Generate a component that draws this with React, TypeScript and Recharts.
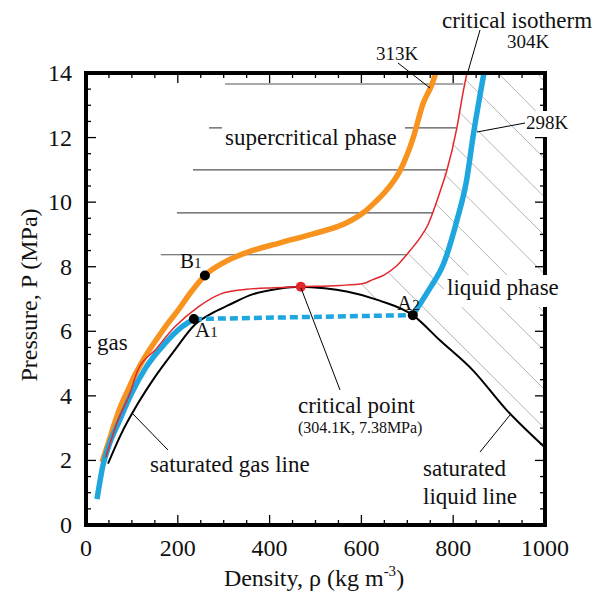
import { LineChart, Line, XAxis, YAxis } from 'recharts';

const FONT = '"Liberation Serif", "Times New Roman", serif';
const INK = '#111';

// plot box (px) – must agree with chart margins / axis sizes below
const LEFT = 86;
const RIGHT = 545;
const TOP = 73;
const BOTTOM = 525;

// axis ticks
const densityTicks = [0, 50, 100, 150, 200, 250, 300, 350, 400, 450, 500, 550, 600, 650, 700, 750, 800, 850, 900, 950, 1000];
const pressureTicks = [0, 0.5, 1, 1.5, 2, 2.5, 3, 3.5, 4, 4.5, 5, 5.5, 6, 6.5, 7, 7.5, 8, 8.5, 9, 9.5, 10, 10.5, 11, 11.5, 12, 12.5, 13, 13.5, 14];

// 313K isotherm (orange)
const rho313 = [35, 50, 62, 76, 91, 105, 120, 138, 157, 178, 200, 228, 259, 300, 350, 423, 495, 568, 604, 630, 648, 684, 713, 734, 754, 762];
const p313 = [1.95, 2.6, 3.14, 3.7, 4.17, 4.6, 5.0, 5.42, 5.82, 6.24, 6.64, 7.2, 7.73, 8.13, 8.44, 8.74, 9.02, 9.36, 9.67, 10.0, 10.26, 10.97, 12.0, 13.04, 13.66, 14.0];

// 304K critical isotherm (red)
const rho304 = [43, 70, 95, 113, 150, 193, 244, 294, 350, 410, 468, 553, 604, 625, 650, 677, 706, 728, 745, 757, 772, 786, 808, 822, 830];
const p304 = [2.1, 3.25, 4.05, 4.8, 5.41, 6.13, 6.75, 7.16, 7.3, 7.35, 7.38, 7.42, 7.48, 7.6, 7.75, 8.03, 8.5, 8.9, 9.3, 9.73, 10.35, 10.97, 12.3, 13.44, 14.0];

// 298K isotherm (blue): gas branch, two-phase plateau, liquid branch
const rho298Gas = [24, 37, 52, 70, 99, 131, 171, 208, 235];
const p298Gas = [0.8, 1.85, 2.55, 3.14, 4.07, 4.89, 5.61, 6.13, 6.38];
const rho298Plateau = [235, 712];
const p298Plateau = [6.38, 6.5];
const rho298Liq = [712, 728, 750, 779, 808, 829, 844, 857, 867];
const p298Liq = [6.5, 6.85, 7.35, 8.09, 9.43, 10.66, 12.1, 13.2, 14.0];

// saturation dome (black)
const rhoSat = [48, 77, 113, 150, 193, 237, 280, 309, 364, 420, 468, 520, 568, 640, 712, 771, 843, 917, 1000];
const pSat = [1.9, 2.83, 3.76, 4.58, 5.41, 6.2, 6.6, 6.8, 7.15, 7.32, 7.38, 7.33, 7.23, 6.95, 6.5, 5.72, 4.79, 3.55, 2.4];

// marked states: B1, A1, A2 and the critical point
const stateRho = [259, 235, 712];
const stateP = [7.73, 6.38, 6.5];
const criticalRho = [468];
const criticalP = [7.38];

// supercritical region rules
const scP = [8.37, 9.67, 11.0, 12.3, 13.66];
const scRhoFrom = [163, 198, 233, 268, 303];
const scRhoTo = [699, 756, 786, 808, 822];

// liquid region hatching
const hatchRhoFrom = [600, 658, 701, 737, 761, 779, 796, 812, 827, 898, 983];
const hatchPFrom = [7.47, 7.83, 8.42, 9.1, 9.96, 10.9, 11.84, 12.81, 13.79, 14, 14];
const hatchRhoTo = [634, 1000, 1000, 1000, 1000, 1000, 1000, 1000, 1000, 1000, 1000];
const hatchPTo = [6.97, 2.98, 4.18, 5.37, 6.56, 7.76, 8.95, 10.14, 11.34, 12.53, 13.72];

const rows = (xs: number[], ys: number[]) => xs.map((rho, i) => ({ rho, p: ys[i] }));

function DensityTick({ x, payload }: any) {
  const v = payload.value;
  const major = v % 200 === 0;
  const len = major ? 10 : 5;
  return (
    <g>
      <line x1={x} x2={x} y1={BOTTOM} y2={BOTTOM - len} stroke="#000" strokeWidth={1.3} />
      <line x1={x} x2={x} y1={TOP} y2={TOP + len} stroke="#000" strokeWidth={1.3} />
      {major && (
        <text x={x} y={556} textAnchor="middle" fontFamily={FONT} fontSize={24} fill={INK}>
          {v}
        </text>
      )}
    </g>
  );
}

function PressureTick({ y, payload }: any) {
  const v = payload.value;
  const major = v % 2 === 0;
  const len = major ? 10 : 5;
  return (
    <g>
      <line x1={LEFT} x2={LEFT + len} y1={y} y2={y} stroke="#000" strokeWidth={1.3} />
      <line x1={RIGHT} x2={RIGHT - len} y1={y} y2={y} stroke="#000" strokeWidth={1.3} />
      {major && (
        <text x={72} y={y + 8} textAnchor="end" fontFamily={FONT} fontSize={24} fill={INK}>
          {v}
        </text>
      )}
    </g>
  );
}

function Annotations() {
  const t = { fontFamily: FONT, fill: INK };
  const lead = { stroke: '#000', strokeWidth: 1 };
  return (
    <svg width={600} height={596} style={{ position: 'absolute', left: 0, top: 0, pointerEvents: 'none' }}>
      {/* heavy frame round the plot */}
      <rect x={LEFT} y={TOP} width={RIGHT - LEFT} height={BOTTOM - TOP} fill="none" stroke="#000" strokeWidth={4} />

      {/* axis titles */}
      <text x={314} y={586} textAnchor="middle" fontSize={24} {...t}>
        Density, ρ (kg m<tspan dy={-10} fontSize={15}>-3</tspan>
        <tspan dy={10}>)</tspan>
      </text>
      <text transform="translate(37,295) rotate(-90)" textAnchor="middle" fontSize={24} {...t}>
        Pressure, P (MPa)
      </text>

      {/* isotherm labels */}
      <text x={442} y={28} fontSize={23} {...t}>critical isotherm</text>
      <text x={528} y={48} textAnchor="middle" fontSize={19} {...t}>304K</text>
      <line x1={480} y1={30} x2={467} y2={75} {...lead} />
      <text x={397} y={60} textAnchor="middle" fontSize={19} {...t}>313K</text>
      <line x1={398} y1={63} x2={430} y2={88} {...lead} />
      <rect x={524} y={111} width={46} height={26} fill="#fff" />
      <line x1={525} y1={123} x2={477} y2={132} {...lead} />
      <text x={547} y={129} textAnchor="middle" fontSize={19} {...t}>298K</text>

      {/* regions */}
      <rect x={222} y={121} width={183} height={32} fill="#fff" />
      <text x={225} y={145} fontSize={23} {...t}>supercritical phase</text>
      <rect x={444} y={275} width={124} height={32} fill="#fff" />
      <text x={447} y={295} fontSize={23} {...t}>liquid phase</text>
      <text x={97} y={350} fontSize={23} {...t}>gas</text>

      {/* state labels */}
      <text x={180} y={268} fontSize={21} {...t}>B<tspan fontSize={15}>1</tspan></text>
      <text x={195} y={337} fontSize={21} {...t}>A<tspan fontSize={15}>1</tspan></text>
      <text x={397} y={310} fontSize={21} {...t}>A<tspan fontSize={15}>2</tspan></text>

      {/* critical point */}
      <line x1={301} y1={288} x2={340} y2={390} {...lead} />
      <text x={298} y={413} fontSize={23} {...t}>critical point</text>
      <text x={298} y={433} fontSize={16} {...t}>(304.1K, 7.38MPa)</text>

      {/* saturation lines */}
      <line x1={132} y1={413} x2={168} y2={450} {...lead} />
      <text x={150} y={472} fontSize={23} {...t}>saturated gas line</text>
      <line x1={510} y1={415} x2={480} y2={452} {...lead} />
      <text x={423} y={476} fontSize={23} {...t}>saturated</text>
      <text x={423} y={504} fontSize={23} {...t}>liquid line</text>
    </svg>
  );
}

export default function App() {
  const hatch = hatchRhoFrom.map((r, i) => rows([r, hatchRhoTo[i]], [hatchPFrom[i], hatchPTo[i]]));
  const rules = scP.map((p, i) => rows([scRhoFrom[i], scRhoTo[i]], [p, p]));

  return (
    <div style={{ position: 'absolute', left: 0, top: 0, width: 600, height: 596, background: '#fff' }}>
      <LineChart width={600} height={596} margin={{ top: 73, right: 55, bottom: 0, left: 0 }}>
        <XAxis
          type="number"
          dataKey="rho"
          domain={[0, 1000]}
          ticks={densityTicks}
          interval={0}
          height={71}
          tick={<DensityTick />}
          tickLine={false}
          axisLine={false}
          allowDataOverflow
        />
        <YAxis
          type="number"
          dataKey="p"
          domain={[0, 14]}
          ticks={pressureTicks}
          interval={0}
          width={86}
          tick={<PressureTick />}
          tickLine={false}
          axisLine={false}
          allowDataOverflow
        />

        {hatch.map((d, i) => (
          <Line key={`h${i}`} data={d} dataKey="p" type="linear" stroke="#b5b5b5" strokeWidth={1} dot={false} activeDot={false} isAnimationActive={false} />
        ))}
        {rules.map((d, i) => (
          <Line key={`r${i}`} data={d} dataKey="p" type="linear" stroke="#555" strokeWidth={1.2} dot={false} activeDot={false} isAnimationActive={false} />
        ))}

        <Line data={rows(rhoSat, pSat)} dataKey="p" type="monotone" stroke="#000" strokeWidth={2} dot={false} activeDot={false} isAnimationActive={false} />
        <Line data={rows(rho313, p313)} dataKey="p" type="monotone" stroke="#F7931E" strokeWidth={5.5} dot={false} activeDot={false} isAnimationActive={false} />
        <Line data={rows(rho298Gas, p298Gas)} dataKey="p" type="monotone" stroke="#1EA6DE" strokeWidth={5.5} dot={false} activeDot={false} isAnimationActive={false} />
        <Line data={rows(rho298Liq, p298Liq)} dataKey="p" type="monotone" stroke="#1EA6DE" strokeWidth={5.5} dot={false} activeDot={false} isAnimationActive={false} />
        <Line data={rows(rho298Plateau, p298Plateau)} dataKey="p" type="linear" stroke="#1EA6DE" strokeWidth={4.5} strokeDasharray="8 4" dot={false} activeDot={false} isAnimationActive={false} />
        <Line data={rows(rho304, p304)} dataKey="p" type="monotone" stroke="#E3262B" strokeWidth={1.5} dot={false} activeDot={false} isAnimationActive={false} />

        <Line data={rows(stateRho, stateP)} dataKey="p" type="linear" stroke="none" dot={{ r: 5, fill: '#000', stroke: 'none' }} activeDot={false} isAnimationActive={false} />
        <Line data={rows(criticalRho, criticalP)} dataKey="p" type="linear" stroke="none" dot={{ r: 5, fill: '#E3262B', stroke: 'none' }} activeDot={false} isAnimationActive={false} />
      </LineChart>
      <Annotations />
    </div>
  );
}
